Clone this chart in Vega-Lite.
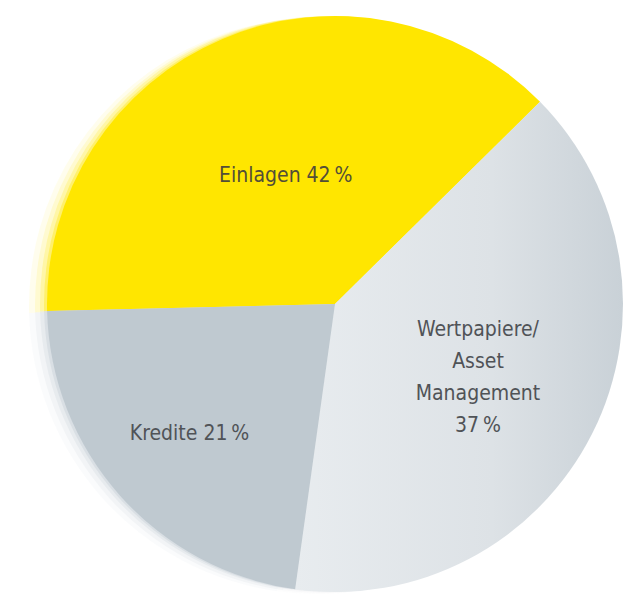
{
  "$schema": "https://vega.github.io/schema/vega-lite/v6.json",
  "width": 625,
  "height": 595,
  "autosize": {"type": "fit", "contains": "padding"},
  "padding": {"left": 45, "top": 13, "right": 0, "bottom": 0},
  "background": "white",
  "config": {"view": {"stroke": null}},
  "data": {
    "values": [
      {"segment": "Einlagen", "rank": 1, "value": 38.0, "label": "Einlagen 42\u2009%"},
      {"segment": "Wertpapiere/Asset Management", "rank": 2, "value": 39.6, "label": "Wertpapiere/\nAsset\nManagement\n37\u2009%"},
      {"segment": "Kredite", "rank": 3, "value": 22.4, "label": "Kredite 21\u2009%"}
    ]
  },
  "encoding": {
    "theta": {"field": "value", "type": "quantitative", "stack": true, "scale": {"range": [4.688, 10.971]}},
    "order": {"field": "rank", "type": "quantitative"}
  },
  "layer": [
    {
      "mark": {"type": "arc", "outerRadius": 288, "xOffset": -18, "yOffset": 2, "opacity": 0.07},
      "encoding": {"color": {"field": "segment", "type": "nominal", "legend": null, "scale": {"domain": ["Einlagen", "Wertpapiere/Asset Management", "Kredite"], "range": ["#FFE600", "#DCE1E5", "#BFC9D0"]}}}
    },
    {
      "mark": {"type": "arc", "outerRadius": 288, "xOffset": -12, "yOffset": 1, "opacity": 0.12},
      "encoding": {"color": {"field": "segment", "type": "nominal", "legend": null}}
    },
    {
      "mark": {"type": "arc", "outerRadius": 288, "xOffset": -7, "opacity": 0.2},
      "encoding": {"color": {"field": "segment", "type": "nominal", "legend": null}}
    },
    {
      "mark": {"type": "arc", "outerRadius": 288, "xOffset": -3, "opacity": 0.35},
      "encoding": {"color": {"field": "segment", "type": "nominal", "legend": null}}
    },
    {
      "mark": {"type": "arc", "outerRadius": 288},
      "encoding": {
        "color": {
          "condition": {
            "test": "datum.segment === 'Wertpapiere/Asset Management'",
            "value": {"gradient": "linear", "x1": 0, "y1": 0, "x2": 1, "y2": 0, "stops": [{"offset": 0, "color": "#E8ECEF"}, {"offset": 0.6, "color": "#DDE2E6"}, {"offset": 1, "color": "#C9D1D7"}]}
          },
          "field": "segment", "type": "nominal", "legend": null
        }
      }
    },
    {
      "mark": {"type": "text", "radius": 139, "font": "DejaVu Sans Condensed, sans-serif", "fontSize": 21, "color": "#524e38", "lineBreak": "\n", "lineHeight": 32, "dx": 5},
      "encoding": {"text": {"condition": {"test": "datum.segment === 'Einlagen'", "field": "label"}, "value": ""}}
    },
    {
      "mark": {"type": "text", "radius": 160, "font": "DejaVu Sans Condensed, sans-serif", "fontSize": 21, "color": "#505357", "lineBreak": "\n", "lineHeight": 32, "dy": -46},
      "encoding": {"text": {"condition": {"test": "datum.segment === 'Wertpapiere/Asset Management'", "field": "label"}, "value": ""}}
    },
    {
      "mark": {"type": "text", "radius": 195, "font": "DejaVu Sans Condensed, sans-serif", "fontSize": 21, "color": "#505357", "lineBreak": "\n", "lineHeight": 32},
      "encoding": {"text": {"condition": {"test": "datum.segment === 'Kredite'", "field": "label"}, "value": ""}}
    }
  ]
}
